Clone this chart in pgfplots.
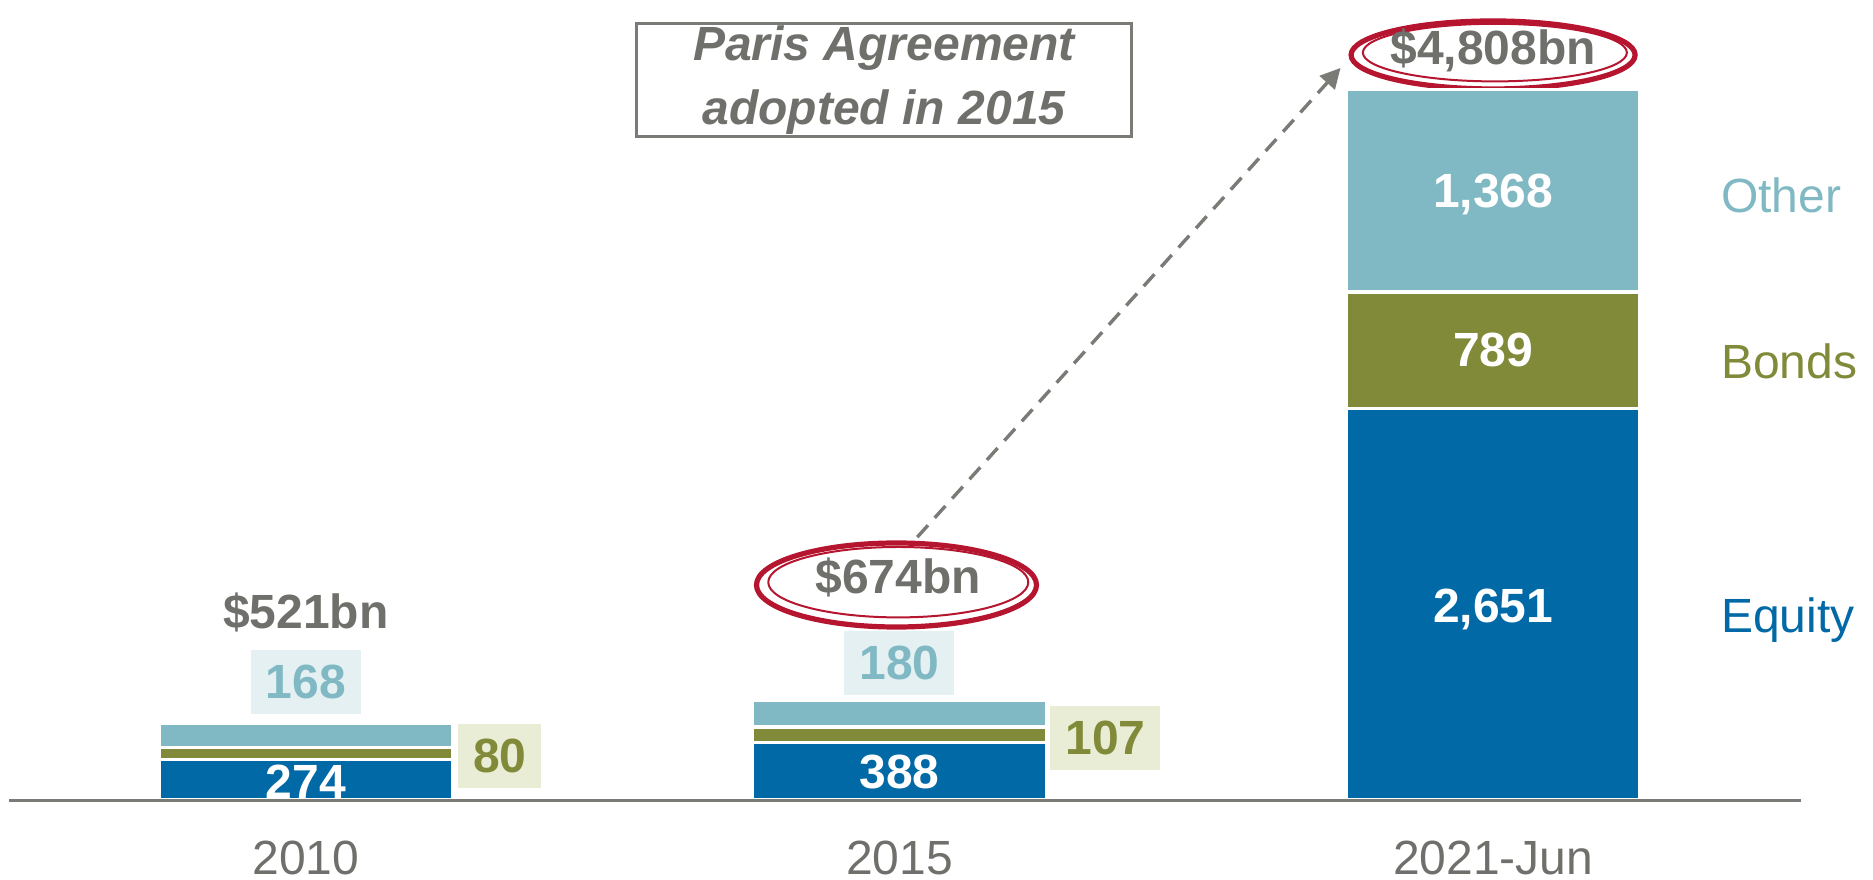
\documentclass[border=0pt]{standalone}
\usepackage{pgfplots}
\pgfplotsset{compat=1.18}
\usepackage{fontspec}
\setmainfont{Liberation Sans}
\usetikzlibrary{arrows.meta}
\definecolor{equity}{HTML}{0069A6}
\definecolor{bonds}{HTML}{808A38}
\definecolor{other}{HTML}{80B9C3}
\definecolor{otherbg}{HTML}{E4F0F2}
\definecolor{bondsbg}{HTML}{EAEDD5}
\definecolor{txtgray}{HTML}{6F6F6B}
\definecolor{axisgray}{HTML}{7A7A76}
\definecolor{redc}{HTML}{B5152F}
\newcommand{\lbl}{\fontsize{12}{14}\selectfont}
\newcommand{\blbl}{\fontsize{12}{15.8}\selectfont\bfseries}

\begin{document}
\begin{tikzpicture}
\begin{axis}[
  scale only axis, width=448pt, height=200pt,
  xmin=-0.5, xmax=2.519, ymin=0, ymax=5416,
  ybar stacked, bar width=0.495,
  axis x line=bottom, axis y line=none, ytick=\empty,
  x axis line style={draw=axisgray, line width=0.75pt, -},
  xtick={0,1,2}, xticklabels={2010,2015,2021-Jun},
  major tick length=0,
  xticklabel style={font=\lbl, text=txtgray, yshift=-6.7pt},
  axis on top, clip=false,
  every axis plot/.append style={draw=white, line width=0.8pt},
]
\addplot[fill=equity] coordinates {(0,274) (1,388) (2,2651)};
\addplot[fill=bonds] coordinates {(0,80) (1,107) (2,789)};
\addplot[fill=other] coordinates {(0,168) (1,180) (2,1368)};

% anchors for the values written inside the bars
\coordinate (e0) at (axis cs:0,125);
\coordinate (e1) at (axis cs:1,190);
\coordinate (e2) at (axis cs:2,1290);
\coordinate (b2) at (axis cs:2,3046);
\coordinate (o2) at (axis cs:2,4100);

% small segments labelled outside
\node[fill=otherbg, minimum width=27.5pt, minimum height=16pt, inner sep=0, font=\blbl, text=other] at (axis cs:0,799) {168};
\node[fill=otherbg, minimum width=27.5pt, minimum height=16pt, inner sep=0, font=\blbl, text=other] at (axis cs:1,927) {180};
\node[fill=bondsbg, minimum width=20.75pt, minimum height=16pt, inner sep=0, font=\blbl, text=bonds] at (axis cs:0.327,298) {80};
\node[fill=bondsbg, minimum width=27.5pt, minimum height=16pt, inner sep=0, font=\blbl, text=bonds] at (axis cs:1.347,420) {107};

% totals
\node[font=\blbl, text=txtgray] at (axis cs:0,1273) {\$521bn};
\node[font=\blbl, text=txtgray] at (axis cs:0.998,1510) {\$674bn};
\node[font=\blbl, text=txtgray] at (axis cs:2,5078) {\$4,808bn};
\draw[redc, line width=1.3pt] (axis cs:0.995,1456) ellipse [x radius=35pt, y radius=10.5pt];
\draw[redc, line width=0.5pt] (axis cs:0.998,1475) ellipse [x radius=32.5pt, y radius=8.8pt];
\draw[redc, line width=1.3pt] (axis cs:2,5044) ellipse [x radius=35.5pt, y radius=8.5pt];
\draw[redc, line width=0.5pt] (axis cs:2.003,5060) ellipse [x radius=33pt, y radius=7.2pt];

% series names
\node[anchor=west, inner sep=0, font=\lbl, text=other] at (axis cs:2.383,4096) {Other};
\node[anchor=west, inner sep=0, font=\lbl, text=bonds] at (axis cs:2.383,2972) {Bonds};
\node[anchor=west, inner sep=0, font=\lbl, text=equity] at (axis cs:2.383,1219) {Equity};

% annotation
\node[draw=axisgray, line width=0.6pt, minimum width=123.75pt, minimum height=28.25pt, inner sep=0, align=center, font=\blbl\itshape, text=txtgray] at (axis cs:0.974,4874) {Paris Agreement\\adopted in 2015};
\draw[axisgray, line width=0.85pt, dash pattern=on 4pt off 2.5pt, -{Triangle[length=5pt,width=5pt]}] (axis cs:1.030,1780) -- (axis cs:1.743,4956);

\coordinate (bbl) at (axis cs:-0.5152,-535);
\coordinate (btr) at (axis cs:2.640,5416);
\end{axis}
\node[font=\blbl, text=white] at (e0) {274};
\node[font=\blbl, text=white] at (e1) {388};
\node[font=\blbl, text=white] at (e2) {2,651};
\node[font=\blbl, text=white] at (b2) {789};
\node[font=\blbl, text=white] at (o2) {1,368};
\pgfresetboundingbox
\path[use as bounding box] (bbl) rectangle (btr);
\end{tikzpicture}
\end{document}
